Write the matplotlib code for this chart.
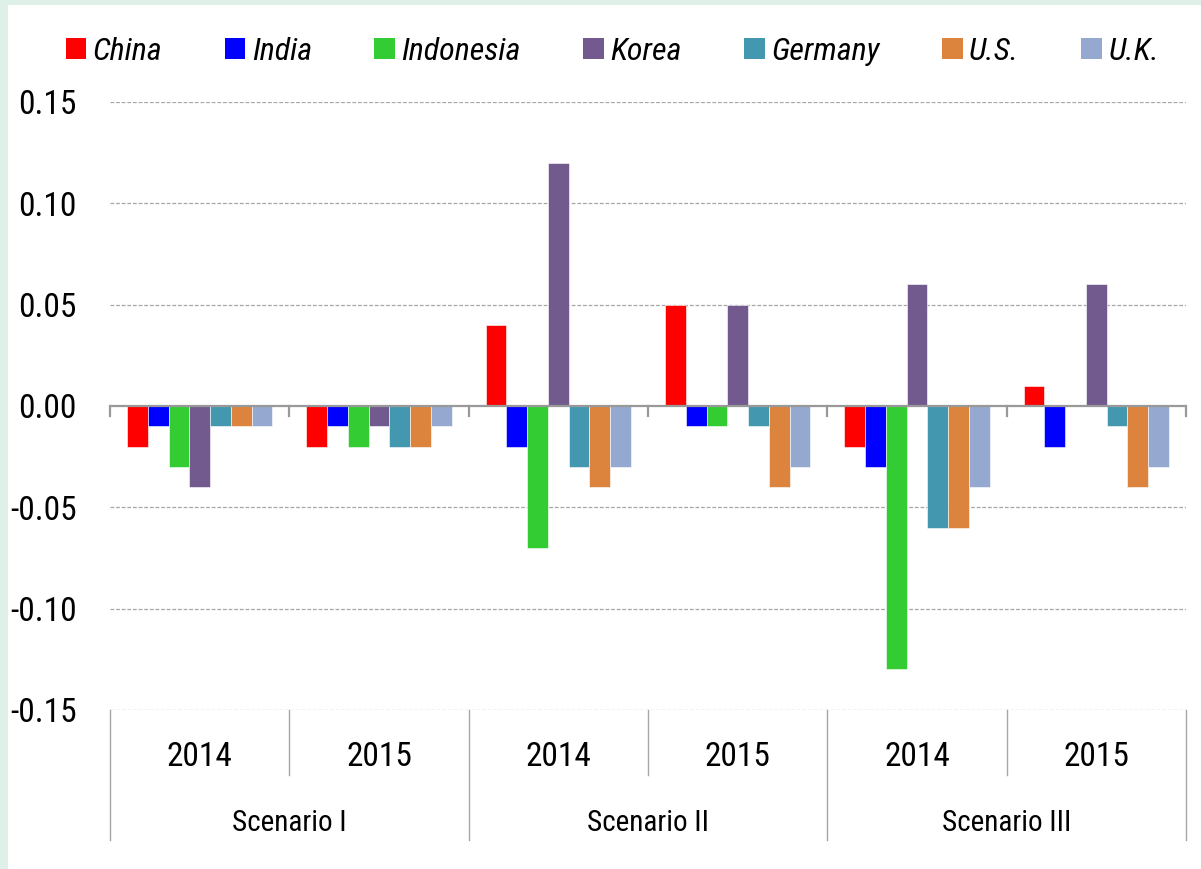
import numpy as np
import matplotlib
matplotlib.use('Agg')
import matplotlib.pyplot as plt
from matplotlib.patches import Patch, Rectangle

plt.rcParams['font.family'] = ['Roboto Condensed', 'Open Sans Condensed', 'Liberation Sans Narrow', 'DejaVu Sans']

countries = ['China', 'India', 'Indonesia', 'Korea', 'Germany', 'U.S.', 'U.K.']
colors = ['#ff0000', '#0000ff', '#33cc33', '#725a8f', '#4398b0', '#dc843e', '#95a9d0']
years = ['2014', '2015', '2014', '2015', '2014', '2015']
scenarios = ['Scenario I', 'Scenario II', 'Scenario III']

# rows: country, columns: group (scenario/year)
china = [-0.02, -0.02, 0.04, 0.05, -0.02, 0.01]
india = [-0.01, -0.01, -0.02, -0.01, -0.03, -0.02]
indonesia = [-0.03, -0.02, -0.07, -0.01, -0.13, 0.0]
korea = [-0.04, -0.01, 0.12, 0.05, 0.06, 0.06]
germany = [-0.01, -0.02, -0.03, -0.01, -0.06, -0.01]
us = [-0.01, -0.02, -0.04, -0.04, -0.06, -0.04]
uk = [-0.01, -0.01, -0.03, -0.03, -0.04, -0.03]
values = [china, india, indonesia, korea, germany, us, uk]

fig = plt.figure(figsize=(12.01, 8.69), dpi=100, facecolor='#dff0e8')
fig.patches.append(Rectangle((8 / 1201, 0), 1, 1 - 5 / 869, transform=fig.transFigure,
                             facecolor='white', edgecolor='none', zorder=-5))

ax = fig.add_axes([110 / 1201, 1 - 710 / 869, 1076 / 1201, 608 / 869])
ax.set_facecolor('none')

x = np.arange(len(years))
w = 0.1157
for i, (name, vals) in enumerate(zip(countries, values)):
    ax.bar(x + (i - 3) * w, vals, width=w, color=colors[i], label=name, zorder=3,
           edgecolor='white', linewidth=0.4)

ax.set_xlim(-0.5, 5.5)
ax.set_ylim(-0.15, 0.15)
ax.set_yticks([-0.15, -0.10, -0.05, 0.0, 0.05, 0.10, 0.15])
ax.set_yticklabels(['-0.15', '-0.10', '-0.05', '0.00', '0.05', '0.10', '0.15'], fontsize=24)
ax.tick_params(axis='y', length=0, pad=24)
ax.set_xticks([])
for s in ax.spines.values():
    s.set_visible(False)

for yv in [-0.15, -0.10, -0.05, 0.05, 0.10, 0.15]:
    ax.axhline(yv, color='#a6a6a6', linestyle=(0, (3, 1.5)), linewidth=0.9, zorder=1)
ax.axhline(0, color='#999999', linewidth=1.6, zorder=4)

# small ticks on zero line at group borders
trans = ax.get_xaxis_transform()
for b in np.arange(-0.5, 6.0, 1.0):
    ax.plot([b, b], [0.5, 0.5 - 10 / 608], transform=trans, color='#999999',
            linewidth=1.6, clip_on=False, zorder=4)

# category table below the axes
for k, b in enumerate(np.arange(-0.5, 6.0, 1.0)):
    bottom = -130 / 608 if k % 2 == 0 else -65 / 608
    ax.plot([b, b], [0, bottom], transform=trans, color='#a6a6a6', linewidth=1.0,
            clip_on=False)
for xi, yr in zip(x, years):
    ax.text(xi, -47 / 608, yr, transform=trans, ha='center', va='center', fontsize=24)
for j, sc in enumerate(scenarios):
    ax.text(2 * j + 0.5, -113 / 608, sc, transform=trans, ha='center', va='center',
            fontsize=21)

handles = [Patch(facecolor=c, edgecolor='none') for c in colors]
fig.legend(handles, countries, loc='center', bbox_to_anchor=(0.510, 1 - 51 / 869),
           ncol=7, frameon=False, prop={'style': 'italic', 'size': 23},
           handlelength=0.65, handleheight=0.65, handletextpad=0.2,
           columnspacing=1.95)

fig.savefig('out.png', dpi=100, facecolor=fig.get_facecolor())
